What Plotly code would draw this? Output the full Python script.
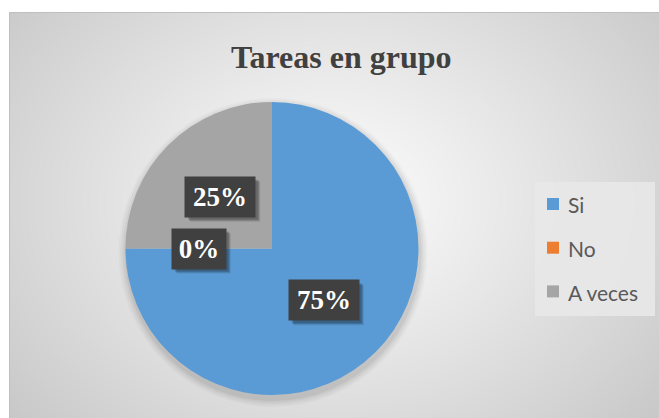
import base64, struct, zlib, math
import numpy as np
import plotly.graph_objects as go

# ---- data ----
labels = ["Si", "No", "A veces"]
values = [75, 0, 25]
pct_text = ["75%", "0%", "25%"]
colors = ["#5b9bd5", "#ed7d31", "#a5a5a5"]
title_text = "Tareas en grupo"

W, H = 659, 418

# ---- background radial gradient image (chart area) ----
def png_data_uri(arr):
    h, w = arr.shape
    raw = b"".join(b"\x00" + arr[i].astype(np.uint8).tobytes() for i in range(h))
    def chunk(tag, data):
        c = struct.pack(">I", len(data)) + tag + data
        return c + struct.pack(">I", zlib.crc32(tag + data) & 0xffffffff)
    png = b"\x89PNG\r\n\x1a\n" + chunk(b"IHDR", struct.pack(">IIBBBBB", w, h, 8, 0, 0, 0, 0))
    png += chunk(b"IDAT", zlib.compress(raw, 9)) + chunk(b"IEND", b"")
    return "data:image/png;base64," + base64.b64encode(png).decode()

ax0, ay0 = 9, 12
gw, gh = W - ax0, H - ay0
yy, xx = np.mgrid[0:gh, 0:gw]
cx_g, cy_g = (334 - ax0), (200 - ay0)
t = np.sqrt(((xx - cx_g) / 330.0) ** 2 + ((yy - cy_g) / 260.0) ** 2)
t = np.clip(t / 1.3, 0, 1)
grad = 252 - 52 * t ** 1.1
bg_uri = png_data_uri(grad)

# ---- pie geometry (pixels) ----
pcx, pcy, pr = 272.0, 248.5, 146.5
def px(x):
    return x / W
def py(y):
    return 1 - y / H

fig = go.Figure()
fig.add_trace(go.Pie(
    labels=labels, values=values, sort=False, direction="clockwise", rotation=0,
    marker=dict(colors=colors, line=dict(width=0)),
    textinfo="none", hoverinfo="label+percent", showlegend=False,
    domain=dict(x=[px(pcx - pr), px(pcx + pr)], y=[py(pcy + pr), py(pcy - pr)]),
))

shapes = []
# chart area border
shapes.append(dict(type="rect", xref="paper", yref="paper", x0=px(ax0 + 0.5), x1=px(W + 2),
                   y0=py(H + 2), y1=py(ay0 + 0.5), line=dict(color="#bfbfbf", width=1),
                   fillcolor="rgba(0,0,0,0)", layer="below"))
# soft pie shadow
for d, a in [(8, 0.025), (6, 0.03), (4, 0.04), (2, 0.05)]:
    shapes.append(dict(type="circle", xref="paper", yref="paper",
                       x0=px(pcx - pr - d + 1), x1=px(pcx + pr + d + 1),
                       y0=py(pcy + pr + d + 4), y1=py(pcy - pr - d + 4),
                       line=dict(width=0), fillcolor=f"rgba(0,0,0,{a})", layer="below"))
# legend box
lg_x0, lg_x1, lg_y0, lg_y1 = 535, 655, 182, 316
shapes.append(dict(type="rect", xref="paper", yref="paper", x0=px(lg_x0), x1=px(lg_x1),
                   y0=py(lg_y1), y1=py(lg_y0), line=dict(width=0), fillcolor="rgba(232,232,232,0.9)",
                   layer="below"))

annotations = []
# title
annotations.append(dict(text="<b>" + title_text + "</b>", x=px(341), y=py(57), xref="paper", yref="paper",
                        showarrow=False, xanchor="center", yanchor="middle",
                        font=dict(family="Liberation Serif", size=32, color="#404040")))

# data labels: at mid-angle, half radius
total = sum(values)
cum = 0
for lab, v, txt in zip(labels, values, pct_text):
    mid = (cum + v / 2) / total * 2 * math.pi
    cum += v
    lx = pcx + 0.5 * pr * math.sin(mid)
    ly = pcy - 0.5 * pr * math.cos(mid)
    bw = 18 + 16 * len(txt)
    # soft shadow boxes (shapes, above the pie)
    for s, a in [(5, 0.10), (4, 0.14), (3, 0.18)]:
        shapes.append(dict(type="rect", xref="paper", yref="paper",
                           x0=px(lx - (bw + 4) / 2 + s), x1=px(lx + (bw + 4) / 2 + s),
                           y0=py(ly + 20 + s), y1=py(ly - 20 + s),
                           line=dict(width=0), fillcolor=f"rgba(0,0,0,{a})", layer="above"))
    annotations.append(dict(text="<b>" + txt + "</b>", x=px(lx), y=py(ly), xref="paper", yref="paper",
                            showarrow=False, xanchor="center", yanchor="middle",
                            width=bw, height=36, borderpad=2, bgcolor="#404040",
                            font=dict(family="Liberation Serif", size=27, color="#ffffff")))

# manual legend
for i, (lab, col) in enumerate(zip(labels, colors)):
    cy = 204 + 43.7 * i
    shapes.append(dict(type="rect", xref="paper", yref="paper", x0=px(547), x1=px(559),
                       y0=py(cy + 6), y1=py(cy - 6), line=dict(width=0), fillcolor=col))
    annotations.append(dict(text=lab, x=px(566), y=py(cy + 1), xref="paper", yref="paper",
                            showarrow=False, xanchor="left", yanchor="middle",
                            font=dict(family="Lato", size=21, color="#595959")))

fig.update_layout(
    width=W, height=H, margin=dict(l=0, r=0, t=0, b=0),
    paper_bgcolor="#ffffff", plot_bgcolor="#ffffff",
    showlegend=False, shapes=shapes, annotations=annotations,
    images=[dict(source=bg_uri, xref="paper", yref="paper", x=px(ax0), y=py(ay0),
                 sizex=gw / W, sizey=gh / H, xanchor="left", yanchor="top",
                 sizing="stretch", layer="below")],
)

fig.write_html("out.html", config={"displayModeBar": False},
               post_script="document.body.style.margin='0';")
